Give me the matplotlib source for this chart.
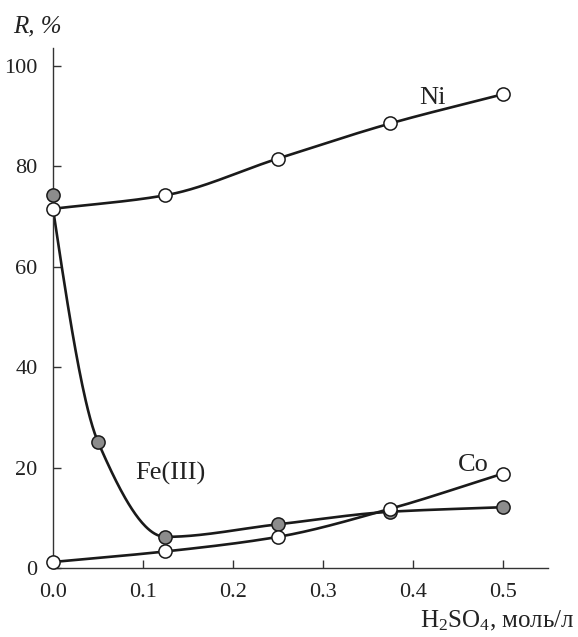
import numpy as np
import matplotlib
matplotlib.use("Agg")
import matplotlib.pyplot as plt

plt.rcParams['font.family'] = ['Liberation Serif', 'DejaVu Serif']
plt.rcParams['mathtext.fontset'] = 'custom'
plt.rcParams['mathtext.rm'] = 'Liberation Serif'

# H2SO4 concentration, mol/l
x_ni = [0.0, 0.125, 0.25, 0.375, 0.5]
r_ni = [71.5, 74.2, 81.5, 88.5, 94.3]

x_fe = [0.0, 0.05, 0.125, 0.25, 0.375, 0.5]
r_fe = [74.3, 25.1, 6.2, 8.7, 11.2, 12.1]

x_co = [0.0, 0.125, 0.25, 0.375, 0.5]
r_co = [1.2, 3.3, 6.2, 11.8, 18.8]


def pchip(x, y, xs, three_point_start=False):
    # monotone cubic (Fritsch-Carlson)
    x = np.asarray(x, float)
    y = np.asarray(y, float)
    h = np.diff(x)
    d = np.diff(y) / h
    n = len(x)
    m = np.zeros(n)
    for k in range(1, n - 1):
        if d[k - 1] * d[k] > 0:
            w1 = 2 * h[k] + h[k - 1]
            w2 = h[k] + 2 * h[k - 1]
            m[k] = (w1 + w2) / (w1 / d[k - 1] + w2 / d[k])
    if three_point_start:
        m[0] = ((2 * h[0] + h[1]) * d[0] - h[0] * d[1]) / (h[0] + h[1])
    else:
        m[0] = d[0]
    m[-1] = d[-1]
    idx = np.clip(np.searchsorted(x, xs) - 1, 0, n - 2)
    t = (xs - x[idx]) / h[idx]
    h00 = 2 * t**3 - 3 * t**2 + 1
    h10 = t**3 - 2 * t**2 + t
    h01 = -2 * t**3 + 3 * t**2
    h11 = t**3 - t**2
    return (h00 * y[idx] + h10 * h[idx] * m[idx]
            + h01 * y[idx + 1] + h11 * h[idx] * m[idx + 1])


fig = plt.figure(figsize=(5.78, 6.37), dpi=100)
ax = fig.add_axes([0.0917, 0.1083, 0.8563, 0.8163])

xs = np.linspace(0, 0.5, 400)
# the Fe curve starts from the common point with Ni at x = 0
fe_curve = [r_ni[0]] + r_fe[1:]
ax.plot(xs, pchip(x_ni, r_ni, xs), color='#1a1a1a', lw=1.9, zorder=2)
ax.plot(xs, pchip(x_fe, fe_curve, xs, three_point_start=True), color='#1a1a1a', lw=1.9, zorder=2)
ax.plot(xs, pchip(x_co, r_co, xs), color='#1a1a1a', lw=1.9, zorder=2)

mk = dict(ls='none', marker='o', ms=9.5, mec='#1a1a1a', mew=1.1, clip_on=False, zorder=3)
ax.plot(x_fe, r_fe, mfc='#8c8c8c', **mk)
ax.plot(x_ni, r_ni, mfc='white', **mk)
ax.plot(x_co, r_co, mfc='white', **mk)

ax.set_xlim(0, 0.55)
ax.set_ylim(0, 103.5)
ax.set_xticks([0.0, 0.1, 0.2, 0.3, 0.4, 0.5])
ax.set_xticklabels(['0.0', '0.1', '0.2', '0.3', '0.4', '0.5'])
ax.set_yticks([0, 20, 40, 60, 80, 100])
for s in ['top', 'right']:
    ax.spines[s].set_visible(False)
for s in ['left', 'bottom']:
    ax.spines[s].set_color('#333333')
    ax.spines[s].set_linewidth(1.0)
ax.tick_params(direction='in', length=6, width=1.0, color='#333333',
               labelsize=16, pad=11, labelcolor='#222222')

ax.text(0.422, 93.6, 'Ni', fontsize=19, ha='center', va='center', color='#222222')
ax.text(0.467, 20.5, 'Co', fontsize=19, ha='center', va='center', color='#222222')
ax.text(0.13, 18.9, 'Fe(III)', fontsize=19, ha='center', va='center', color='#222222')

fig.text(0.065, 0.958, 'R, %', fontsize=18, ha='center', va='center',
         color='#222222', style='italic')
fig.text(0.995, 0.025, r'$\mathregular{H_2SO_4}$, моль/л', fontsize=18,
         ha='right', va='center', color='#222222')

fig.savefig('out.png', dpi=100)
